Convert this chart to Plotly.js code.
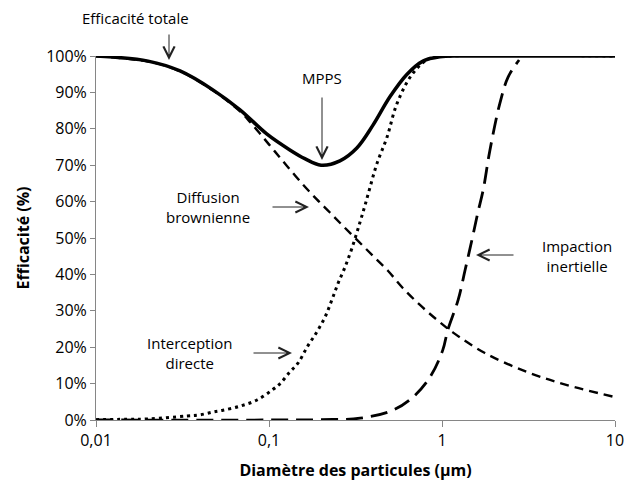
<!DOCTYPE html>
<html><head><meta charset="utf-8">
<script src="https://cdn.plot.ly/plotly-3.0.1.min.js"></script>
<style>html,body{margin:0;padding:0;background:#fff}#chart{width:628px;height:490px}</style>
</head><body><div id="chart"></div>
<script>
// Diamètre (µm) / efficacité (%)
const dTotal = [0.01, 0.02, 0.0306, 0.0474, 0.068, 0.097, 0.132, 0.161, 0.2, 0.257, 0.323, 0.399, 0.5, 0.628, 0.776, 0.973, 1.27, 2, 5, 10];
const effTotal = [100, 98.6, 95.9, 90.7, 85.2, 78.6, 74.2, 71.8, 70, 71.2, 74.8, 81, 88.8, 95, 98.6, 99.8, 100, 100, 100, 100];

const dDiff = [0.01, 0.02, 0.0306, 0.0474, 0.068, 0.0776, 0.0911, 0.108, 0.127, 0.157, 0.189, 0.225, 0.268, 0.327, 0.399, 0.487, 0.595, 0.746, 0.936, 1.16, 1.77, 3.1, 5.28, 10];
const effDiff = [99.9, 98.5, 95.8, 90.5, 84.8, 81.9, 78, 73.8, 69.8, 64.7, 60.6, 57, 53.3, 49.2, 45.1, 41, 36.2, 31.6, 27.5, 24, 18.4, 13.2, 9.6, 6.3];

const dInt = [0.01, 0.015, 0.02, 0.0336, 0.0399, 0.0474, 0.0542, 0.068, 0.0853, 0.104, 0.116, 0.132, 0.147, 0.166, 0.189, 0.211, 0.231, 0.251, 0.275, 0.302, 0.336, 0.359, 0.384, 0.421, 0.481, 0.55, 0.68, 0.853, 1.11, 10];
const effInt = [0.1, 0.2, 0.3, 1.1, 1.4, 2.2, 2.7, 3.8, 5.5, 8.2, 10, 13.2, 15.6, 20, 24.2, 28.3, 33, 37.6, 42, 47.3, 54.4, 59, 64, 70.5, 77.7, 87, 95.3, 99.4, 100, 100];

const dImp = [0.01, 0.1, 0.2, 0.336, 0.521, 0.68, 0.853, 1.01, 1.08, 1.24, 1.36, 1.49, 1.61, 1.73, 1.89, 2.16, 2.41, 2.79];
const effImp = [0, 0, 0.1, 0.5, 2.7, 6.3, 11.8, 19.2, 24.7, 33, 41.2, 49.5, 56.9, 63.2, 74, 87, 94.2, 98.9];

const xTickVals = [0.01, 0.1, 1, 10];
const xTickText = ['0,01', '0,1', '1', '10'];
const yTickVals = [0, 10, 20, 30, 40, 50, 60, 70, 80, 90, 100];
const yTickText = ['0%', '10%', '20%', '30%', '40%', '50%', '60%', '70%', '80%', '90%', '100%'];

const labels = {
  total: 'Efficacité totale',
  mpps: 'MPPS',
  diff: 'Diffusion<br>brownienne',
  inter: 'Interception<br>directe',
  imp: 'Impaction<br>inertielle'
};

const FONT = 'Open Sans, sans-serif';
const AX = '#868686';
const L = 96, T = 56, W = 519, H = 364;
const px = x => (x - L) / W;
const py = y => (T + H - y) / H;

function line(x, y, width, dash) {
  return {x: x, y: y, type: 'scatter', mode: 'lines', cliponaxis: false,
    line: {color: '#000', width: width, dash: dash, shape: 'spline', smoothing: 1},
    hoverinfo: 'skip', showlegend: false};
}

const traces = [
  line(dImp, effImp, 2.8, '17px,8px'),
  line(dInt, effInt, 3, '3px,4px'),
  line(dDiff, effDiff, 2.4, '9px,6px'),
  line(dTotal, effTotal, 3.5, 'solid')
];

function txt(t, x, y) {
  return {text: t, xref: 'paper', yref: 'paper', x: px(x), y: py(y), xanchor: 'center', yanchor: 'middle',
    showarrow: false, font: {family: FONT, size: 15, color: '#000'}};
}
function arr(x0, y0, x1, y1) {
  return {text: '', xref: 'paper', yref: 'paper', axref: 'paper', ayref: 'paper',
    x: px(x1), y: py(y1), ax: px(x0), ay: py(y0), showarrow: true,
    arrowhead: 5, arrowsize: 2.2, arrowwidth: 1, arrowcolor: '#222', standoff: 0};
}

const annotations = [
  txt(labels.total, 135, 18), arr(169, 33, 169, 60),
  txt(labels.mpps, 322, 78), arr(322, 96, 322, 160),
  txt(labels.diff, 208, 207), arr(271, 207, 309, 207),
  txt(labels.inter, 189, 353), arr(252, 353, 292, 353),
  txt(labels.imp, 577, 256), arr(515, 255, 476, 255)
];

const layout = {
  width: 628, height: 490,
  margin: {l: L, r: 628 - L - W, t: T, b: 490 - T - H},
  paper_bgcolor: '#fff', plot_bgcolor: '#fff',
  font: {family: FONT, color: '#000'},
  xaxis: {type: 'log', range: [-2, 1], tickvals: xTickVals, ticktext: xTickText,
    ticks: 'outside', ticklen: 6, tickcolor: AX, showline: true, linecolor: AX, linewidth: 1,
    showgrid: false, zeroline: false, tickfont: {family: FONT, size: 16, color: '#000'},
    title: {text: 'Diamètre des particules (µm)', font: {family: FONT, size: 16, color: '#000', weight: 'bold'}, standoff: 14}},
  yaxis: {range: [0, 100], tickvals: yTickVals, ticktext: yTickText,
    ticks: 'outside', ticklen: 5, tickcolor: AX, showline: true, linecolor: AX, linewidth: 1,
    showgrid: false, zeroline: false, tickfont: {family: FONT, size: 16, color: '#000'},
    title: {text: 'Efficacité (%)', font: {family: FONT, size: 16, color: '#000', weight: 'bold'}, standoff: 12}},
  annotations: annotations
};

Plotly.newPlot('chart', traces, layout, {staticPlot: true, displayModeBar: false});
</script>
</body></html>
